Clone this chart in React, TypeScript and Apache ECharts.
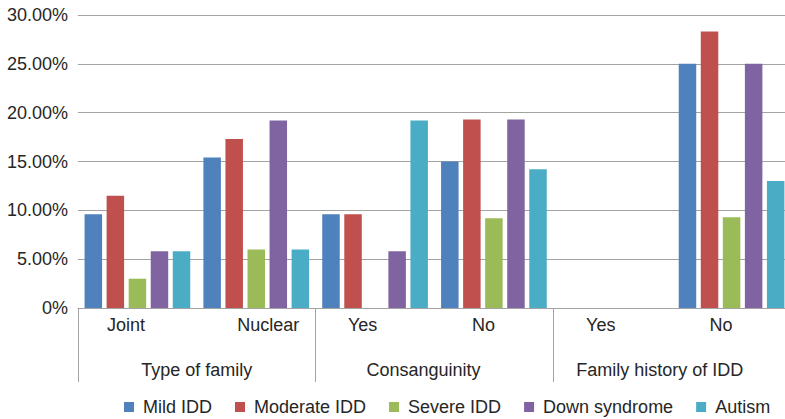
import React, { useEffect, useRef } from "react";
import * as echarts from "echarts";

// Sub-categories (first label row) and their groups (second label row)
const subCategories = ["Joint", "Nuclear", "Yes", "No", "Yes", "No"];
const groups = ["Type of family", "Consanguinity", "Family history of IDD"];

// Percent of children in each sub-category
const mildIDD = [9.6, 15.4, 9.6, 15.0, 0, 25.0];
const moderateIDD = [11.5, 17.3, 9.6, 19.3, 0, 28.3];
const severeIDD = [3.0, 6.0, 0, 9.2, 0, 9.3];
const downSyndrome = [5.8, 19.2, 5.8, 19.3, 0, 25.0];
const autism = [5.8, 6.0, 19.2, 14.2, 0, 13.0];

const seriesNames = ["Mild IDD", "Moderate IDD", "Severe IDD", "Down syndrome", "Autism"];
const colors = ["#4F81BD", "#C0504D", "#9BBB59", "#8064A2", "#4BACC6"];

// Horizontal nudges for the axis labels (px, negative = left)
const subLabelShift = [-11.5, 12, -12.5, -10.5, -12, -10.5];
const groupLabelShift = [0, -11, -12.5];

const FONT = "'Liberation Sans', Arial, Helvetica, sans-serif";
const TEXT = "#262626";
const LINE = "#a3a3a3";

function shiftedRich(shifts: number[]) {
  const rich: Record<string, any> = {};
  shifts.forEach((s, i) => {
    rich["s" + i] = {
      fontSize: 18,
      fontFamily: FONT,
      color: TEXT,
      padding: s < 0 ? [0, -2 * s, 0, 0] : [0, 0, 0, 2 * s],
    };
  });
  return rich;
}

export default function App() {
  const ref = useRef<HTMLDivElement>(null);

  useEffect(() => {
    if (!ref.current) return;
    const chart = echarts.init(ref.current, undefined, { renderer: "svg" });
    const values = [mildIDD, moderateIDD, severeIDD, downSyndrome, autism];

    chart.setOption({
      animation: false,
      color: colors,
      textStyle: { fontFamily: FONT, color: TEXT },
      grid: { left: 78, right: 9, top: 15, bottom: 111, containLabel: false },
      legend: {
        left: 119,
        top: 393,
        itemWidth: 10,
        itemHeight: 10,
        itemGap: 23,
        icon: "rect",
        data: seriesNames,
        textStyle: { fontSize: 18, fontFamily: FONT, color: TEXT, padding: [0, 0, 0, 4] },
      },
      xAxis: [
        {
          type: "category",
          data: subCategories,
          position: "bottom",
          axisLine: { show: true, lineStyle: { color: LINE, width: 1 } },
          axisTick: { show: false },
          axisLabel: {
            margin: 8,
            interval: 0,
            formatter: (v: string, i: number) => `{s${i}|${v}}`,
            rich: shiftedRich(subLabelShift),
          },
        },
        {
          type: "category",
          data: groups,
          position: "bottom",
          axisLine: { show: false },
          axisTick: { show: true, length: 74, interval: 0, lineStyle: { color: LINE, width: 1 } },
          axisLabel: {
            margin: 53,
            interval: 0,
            formatter: (v: string, i: number) => `{s${i}|${v}}`,
            rich: shiftedRich(groupLabelShift),
          },
        },
      ],
      yAxis: {
        type: "value",
        min: 0,
        max: 30,
        interval: 5,
        axisLine: { show: false },
        axisTick: { show: false },
        splitLine: { show: true, lineStyle: { color: LINE, width: 1 } },
        axisLabel: {
          margin: 10,
          fontSize: 18,
          fontFamily: FONT,
          color: TEXT,
          formatter: (v: number) => (v === 0 ? "0%" : v.toFixed(2) + "%"),
        },
      },
      series: seriesNames.map((name, i) => ({
        name,
        type: "bar",
        xAxisIndex: 0,
        data: values[i],
        barWidth: 17.5,
        barGap: "26%",
        itemStyle: { color: colors[i] },
      })),
    });

    return () => chart.dispose();
  }, []);

  return (
    <div
      style={{
        position: "fixed",
        left: 0,
        top: 0,
        width: 785,
        height: 419,
        overflow: "hidden",
        background: "#fff",
      }}
    >
      <div ref={ref} style={{ width: 800, height: 419 }} />
    </div>
  );
}
